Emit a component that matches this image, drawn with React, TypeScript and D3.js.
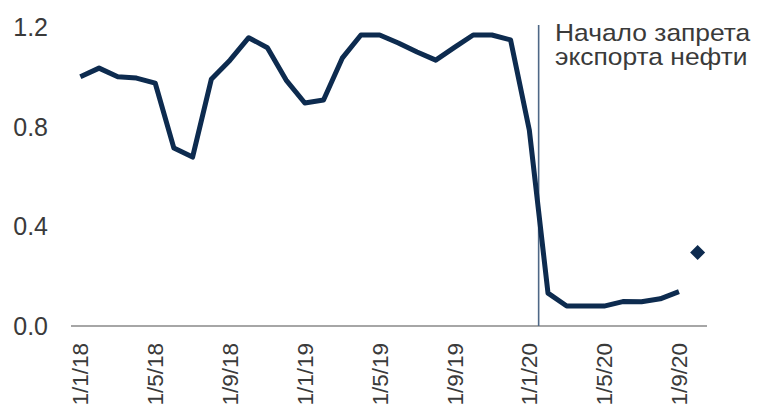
import React from "react";
import * as d3 from "d3";

const categories: string[] = [
  "1/1/18", "1/2/18", "1/3/18", "1/4/18", "1/5/18", "1/6/18", "1/7/18", "1/8/18", "1/9/18", "1/10/18", "1/11/18", "1/12/18",
  "1/1/19", "1/2/19", "1/3/19", "1/4/19", "1/5/19", "1/6/19", "1/7/19", "1/8/19", "1/9/19", "1/10/19", "1/11/19", "1/12/19",
  "1/1/20", "1/2/20", "1/3/20", "1/4/20", "1/5/20", "1/6/20", "1/7/20", "1/8/20", "1/9/20", "1/10/20",
];

const lineValues: (number | null)[] = [
  1.0, 1.035, 1.0, 0.995, 0.975, 0.714, 0.678, 0.99, 1.067, 1.157, 1.117, 0.987,
  0.895, 0.907, 1.075, 1.168, 1.168, 1.136, 1.1, 1.067, 1.118, 1.168, 1.168, 1.148,
  0.787, 0.132, 0.08, 0.08, 0.08, 0.098, 0.097, 0.109, 0.138, null,
];

const markerCategory = "1/10/20";
const markerValue = 0.295;

const yTicks: number[] = [0, 0.4, 0.8, 1.2];
const xTickLabels: string[] = ["1/1/18", "1/5/18", "1/9/18", "1/1/19", "1/5/19", "1/9/19", "1/1/20", "1/5/20", "1/9/20"];

const eventAfter = "1/1/20";
const annotationLines: string[] = ["Начало запрета", "экспорта нефти"];

const W = 758;
const H = 409;
const FONT = "'Liberation Sans', Arial, sans-serif";

export default function App() {
  const x = d3.scalePoint<string>().domain(categories).range([71, 707]).padding(0.5);
  const y = d3.scaleLinear().domain([0, 1.2]).range([326, 27]);

  const line = d3
    .line<number | null>()
    .defined((d) => d !== null)
    .x((_, i) => x(categories[i]) as number)
    .y((d) => y(d as number));

  const step = x.step();
  const eventX = (x(eventAfter) as number) + step / 2;
  const mx = x(markerCategory) as number;
  const my = y(markerValue);
  const dr = 7.5;

  return (
    <svg width={W} height={H} style={{ position: "absolute", left: 0, top: 0, background: "#fff" }}>
      {yTicks.map((t) => (
        <text key={t} x={48} y={y(t)} dy="0.36em" textAnchor="end" fontFamily={FONT} fontSize={25} fill="#3a3a3a">
          {d3.format(".1f")(t)}
        </text>
      ))}
      <line x1={71} x2={707} y1={y(0)} y2={y(0)} stroke="#a6a6a6" strokeWidth={2} />
      <line x1={eventX} x2={eventX} y1={25} y2={y(0)} stroke="#4e6886" strokeWidth={1.6} />
      <path d={line(lineValues) || ""} fill="none" stroke="#0d2b4f" strokeWidth={5} strokeLinejoin="round" />
      <path d={`M${mx},${my - dr}L${mx + dr},${my}L${mx},${my + dr}L${mx - dr},${my}Z`} fill="#0d2b4f" />
      {xTickLabels.map((c) => (
        <text
          key={c}
          transform={`translate(${x(c)},343) rotate(-90)`}
          dy="0.36em"
          textAnchor="end"
          fontFamily={FONT}
          fontSize={22.5}
          fill="#3a3a3a"
        >
          {c}
        </text>
      ))}
      {annotationLines.map((s, i) => (
        <text
          key={s}
          transform={`translate(555,${40.5 + i * 24}) scale(1.1,1)`}
          fontFamily={FONT}
          fontSize={24}
          fill="#3a3a3a"
        >
          {s}
        </text>
      ))}
    </svg>
  );
}
